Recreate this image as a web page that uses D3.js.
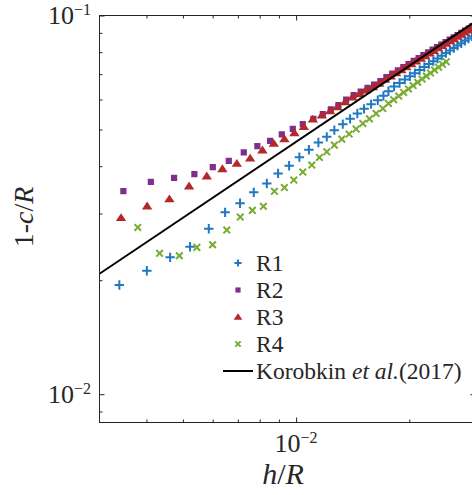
<!DOCTYPE html>
<html lang="en">
<title>1-c/R against h/R</title>
<meta charset="UTF-8">
<style>
body {margin:0; background:#fff}
svg {display:block; font-family:"Liberation Serif", "DejaVu Serif", serif}
</style>
<script src="https://d3js.org/d3.v7.min.js"></script>
<body>
<div id="my_dataviz"><svg width="472" height="495"></svg></div>
<script>
// R1 .. R4: h/R and 1-c/R for each run
var r1h = [0.003388, 0.004009, 0.004623, 0.005224, 0.005858, 0.006474, 0.007095, 0.007717, 0.008358, 0.008956, 0.009581, 0.010204, 0.010815, 0.011463, 0.012066, 0.01264, 0.01331, 0.01392, 0.01455, 0.01516, 0.01583, 0.01649, 0.01707, 0.0176, 0.01822, 0.01884, 0.01946, 0.02007, 0.02069, 0.02131, 0.02193, 0.02255, 0.02317, 0.02378, 0.0244, 0.02502, 0.02564, 0.02626, 0.02687, 0.02749, 0.02811, 0.02873, 0.02935];
var r1y = [0.01943, 0.02119, 0.02298, 0.02451, 0.02734, 0.03021, 0.03192, 0.03412, 0.03602, 0.03829, 0.0401, 0.04227, 0.04419, 0.04622, 0.04782, 0.04981, 0.05166, 0.05334, 0.05512, 0.05669, 0.05834, 0.05976, 0.06135, 0.06312, 0.06494, 0.06636, 0.06775, 0.06912, 0.07044, 0.07182, 0.07314, 0.07444, 0.07576, 0.07701, 0.07833, 0.07959, 0.08081, 0.08208, 0.0833, 0.08451, 0.08574, 0.08696, 0.08813];

var r2h = [0.003472, 0.004108, 0.004737, 0.005364, 0.006004, 0.006622, 0.007259, 0.007888, 0.00853, 0.009162, 0.0098, 0.010419, 0.011117, 0.011776, 0.012368, 0.012958, 0.01359, 0.014223, 0.014855, 0.015488, 0.01612, 0.016752, 0.017385, 0.018017, 0.01865, 0.019282, 0.019914, 0.020547, 0.021179, 0.021812, 0.022444, 0.023076, 0.023709, 0.024341, 0.024974, 0.025606, 0.026238, 0.026871, 0.027503, 0.028136, 0.028768, 0.0294];
var r2y = [0.03439, 0.03638, 0.03728, 0.03813, 0.03978, 0.04131, 0.0435, 0.04518, 0.04667, 0.04853, 0.05021, 0.05166, 0.05334, 0.0549, 0.05649, 0.05799, 0.05995, 0.06162, 0.06294, 0.06442, 0.06572, 0.06708, 0.06874, 0.07022, 0.07164, 0.07305, 0.07447, 0.07585, 0.0772, 0.07857, 0.07988, 0.08124, 0.08253, 0.08381, 0.08507, 0.08636, 0.0876, 0.08882, 0.09004, 0.09125, 0.09241, 0.09365];

var r3h = [0.003423, 0.004016, 0.004603, 0.005192, 0.005787, 0.006368, 0.006956, 0.007546, 0.008135, 0.008723, 0.009309, 0.009897, 0.010489, 0.011077, 0.011705, 0.012313, 0.012877, 0.013501, 0.014115, 0.014738, 0.01532, 0.015996, 0.016631, 0.017254, 0.017854, 0.018456, 0.019057, 0.019658, 0.02026, 0.020861, 0.021462, 0.022063, 0.022665, 0.023266, 0.023867, 0.024469, 0.02507, 0.025671, 0.026272, 0.026874, 0.027475, 0.028076, 0.028678, 0.029279];
var r3y = [0.02924, 0.0314, 0.03277, 0.03545, 0.03767, 0.03936, 0.04069, 0.04201, 0.04412, 0.04594, 0.04724, 0.049, 0.05088, 0.05324, 0.05455, 0.056, 0.05739, 0.05916, 0.06087, 0.06212, 0.06351, 0.0648, 0.06615, 0.06778, 0.0692, 0.07056, 0.0719, 0.07319, 0.07447, 0.0758, 0.07706, 0.07829, 0.07953, 0.08081, 0.08209, 0.0833, 0.08446, 0.08564, 0.0868, 0.08803, 0.08915, 0.09035, 0.09146, 0.09258];

var r4h = [0.003793, 0.004335, 0.004891, 0.005445, 0.005996, 0.00654, 0.007104, 0.00765, 0.008185, 0.008755, 0.009309, 0.00986, 0.010418, 0.011009, 0.011535, 0.012066, 0.01264, 0.013228, 0.013836, 0.014443, 0.015047, 0.015667, 0.016324, 0.017007, 0.017599, 0.018176, 0.018751, 0.019326, 0.019901, 0.020477, 0.021052, 0.021627, 0.022203, 0.022778, 0.023353, 0.023928, 0.024504, 0.025079];
var r4y = [0.02757, 0.02355, 0.02321, 0.02442, 0.02481, 0.02713, 0.02936, 0.03058, 0.03135, 0.03433, 0.03513, 0.03676, 0.03859, 0.04027, 0.04219, 0.04366, 0.04547, 0.04716, 0.04862, 0.05012, 0.05188, 0.05334, 0.05512, 0.05683, 0.05858, 0.05995, 0.06128, 0.06263, 0.06398, 0.0653, 0.06663, 0.06795, 0.0692, 0.07047, 0.07177, 0.07305, 0.0743, 0.07553];

// Korobkin et al. (2017) theory, straight on log-log axes
var korH = [0.003, 0.03];
var korY = [0.0208, 0.0965];

var xMajor = [0.01];
var xMinor = [0.004, 0.005, 0.006, 0.007, 0.008, 0.009, 0.02, 0.03];
var yMajor = [0.01, 0.1];
var yMinor = [0.009, 0.02, 0.03, 0.04, 0.05, 0.06, 0.07, 0.08, 0.09];

var legendNames = ["R1", "R2", "R3", "R4"];
var colors = ["#1f78c0", "#7E2F8E", "#B3282A", "#77AC30"];
var axisColor = "#262626";

var boxL = 99.5, boxR = 475.5, boxT = 15.5, boxB = 422.5;

var x = d3.scaleLog().domain([0.003, 0.03]).range([boxL, boxR]);
var y = d3.scaleLog().domain([0.00842, 0.1]).range([boxB, boxT]);

var svg = d3.select("svg");

svg.append("clipPath").attr("id", "plotArea")
  .append("rect")
  .attr("x", boxL).attr("y", boxT)
  .attr("width", boxR - boxL).attr("height", boxB - boxT);

// marker shapes, centred on 0,0
function marker(kind, s) {
  if (kind == 0) return "M" + (-s) + ",0H" + s + "M0," + (-s) + "V" + s;
  if (kind == 1) return "M" + (-s) + "," + (-s) + "H" + s + "V" + s + "H" + (-s) + "Z";
  if (kind == 2) return "M0," + (-s * 1.0) + "L" + (s * 1.15) + "," + (s * 0.75) + "L" + (-s * 1.15) + "," + (s * 0.75) + "Z";
  return "M" + (-s) + "," + (-s) + "L" + s + "," + s + "M" + s + "," + (-s) + "L" + (-s) + "," + s;
}
function styleMarker(sel, i) {
  if (i == 0 || i == 3) {
    sel.attr("fill", "none").attr("stroke", colors[i]).attr("stroke-width", 2);
  } else {
    sel.attr("fill", colors[i]).attr("stroke", "none");
  }
}

var plot = svg.append("g").attr("clip-path", "url(#plotArea)");

var series = [[r1h, r1y], [r2h, r2y], [r3h, r3y], [r4h, r4y]];
var sizes = [4.7, 3.1, 4.5, 3.3];
series.forEach(function(s, i) {
  var pts = s[0].map(function(h, k) { return [h, s[1][k]]; });
  var g = plot.append("g");
  g.selectAll("path")
    .data(pts)
    .enter()
    .append("path")
    .attr("transform", function(d) { return "translate(" + x(d[0]) + "," + y(d[1]) + ")"; })
    .attr("d", marker(i, sizes[i]))
    .call(styleMarker, i);
});

plot.append("path")
  .datum(korH.map(function(h, k) { return [h, korY[k]]; }))
  .attr("fill", "none")
  .attr("stroke", "#000")
  .attr("stroke-width", 2)
  .attr("d", d3.line().x(function(d) { return x(d[0]); }).y(function(d) { return y(d[1]); }));

// ticks on all four sides, pointing in
function ticks(axis, vals, len, tr) {
  var g = svg.append("g").attr("transform", tr)
    .call(axis.tickValues(vals).tickSizeInner(-len).tickSizeOuter(0).tickFormat(""));
  g.select(".domain").remove();
  g.selectAll("line").attr("stroke", axisColor).attr("stroke-width", 1);
}
ticks(d3.axisBottom(x), xMajor, 5, "translate(0," + boxB + ")");
ticks(d3.axisBottom(x), xMinor, 3, "translate(0," + boxB + ")");
ticks(d3.axisTop(x), xMajor, 5, "translate(0," + boxT + ")");
ticks(d3.axisTop(x), xMinor, 3, "translate(0," + boxT + ")");
ticks(d3.axisLeft(y), yMajor, 5, "translate(" + boxL + ",0)");
ticks(d3.axisLeft(y), yMinor, 3, "translate(" + boxL + ",0)");
ticks(d3.axisRight(y), yMajor, 5, "translate(" + boxR + ",0)");
ticks(d3.axisRight(y), yMinor, 3, "translate(" + boxR + ",0)");

svg.append("rect")
  .attr("x", boxL).attr("y", boxT)
  .attr("width", boxR - boxL).attr("height", boxB - boxT)
  .attr("fill", "none").attr("stroke", axisColor).attr("stroke-width", 1);

// power-of-ten tick labels
function power(sel, exp) {
  sel.append("tspan").text("10");
  sel.append("tspan").attr("font-size", 16).attr("dy", -9).text("\u2212" + exp);
}
yMajor.forEach(function(v) {
  svg.append("text")
    .attr("x", 91).attr("y", y(v) + 8.5)
    .attr("text-anchor", "end")
    .attr("font-size", 26).attr("fill", axisColor)
    .call(power, Math.round(-Math.log10(v)));
});
xMajor.forEach(function(v) {
  svg.append("text")
    .attr("x", x(v)).attr("y", 452)
    .attr("text-anchor", "middle")
    .attr("font-size", 26).attr("fill", axisColor)
    .call(power, Math.round(-Math.log10(v)));
});

// axis titles
var xt = svg.append("text")
  .attr("x", 283).attr("y", 484)
  .attr("text-anchor", "middle")
  .attr("font-size", 30).attr("fill", axisColor);
xt.append("tspan").attr("font-style", "italic").text("h");
xt.append("tspan").text("/");
xt.append("tspan").attr("font-style", "italic").text("R");

var yt = svg.append("text")
  .attr("transform", "translate(33,217) rotate(-90)")
  .attr("text-anchor", "middle")
  .attr("font-size", 28).attr("fill", axisColor);
yt.append("tspan").text("1-");
yt.append("tspan").attr("font-style", "italic").text("c");
yt.append("tspan").text("/");
yt.append("tspan").attr("font-style", "italic").text("R");

// legend
var legend = svg.append("g");
var rowY = [263, 290, 317, 344, 371];
var legSizes = [3.6, 2.6, 3.8, 2.6];
legendNames.forEach(function(name, i) {
  legend.append("path")
    .attr("transform", "translate(238," + rowY[i] + ")")
    .attr("d", marker(i, legSizes[i]))
    .call(styleMarker, i);
  legend.append("text")
    .attr("x", 256).attr("y", rowY[i] + 8)
    .attr("font-size", 23.5).attr("fill", axisColor)
    .text(name);
});
legend.append("line")
  .attr("x1", 223).attr("x2", 253)
  .attr("y1", rowY[4]).attr("y2", rowY[4])
  .attr("stroke", "#000").attr("stroke-width", 2);
var kt = legend.append("text")
  .attr("x", 256).attr("y", rowY[4] + 8)
  .attr("font-size", 23.5).attr("fill", axisColor);
kt.append("tspan").text("Korobkin ");
kt.append("tspan").attr("font-style", "italic").text("et al.");
kt.append("tspan").text("(2017)");
</script>
</body>
</html>
